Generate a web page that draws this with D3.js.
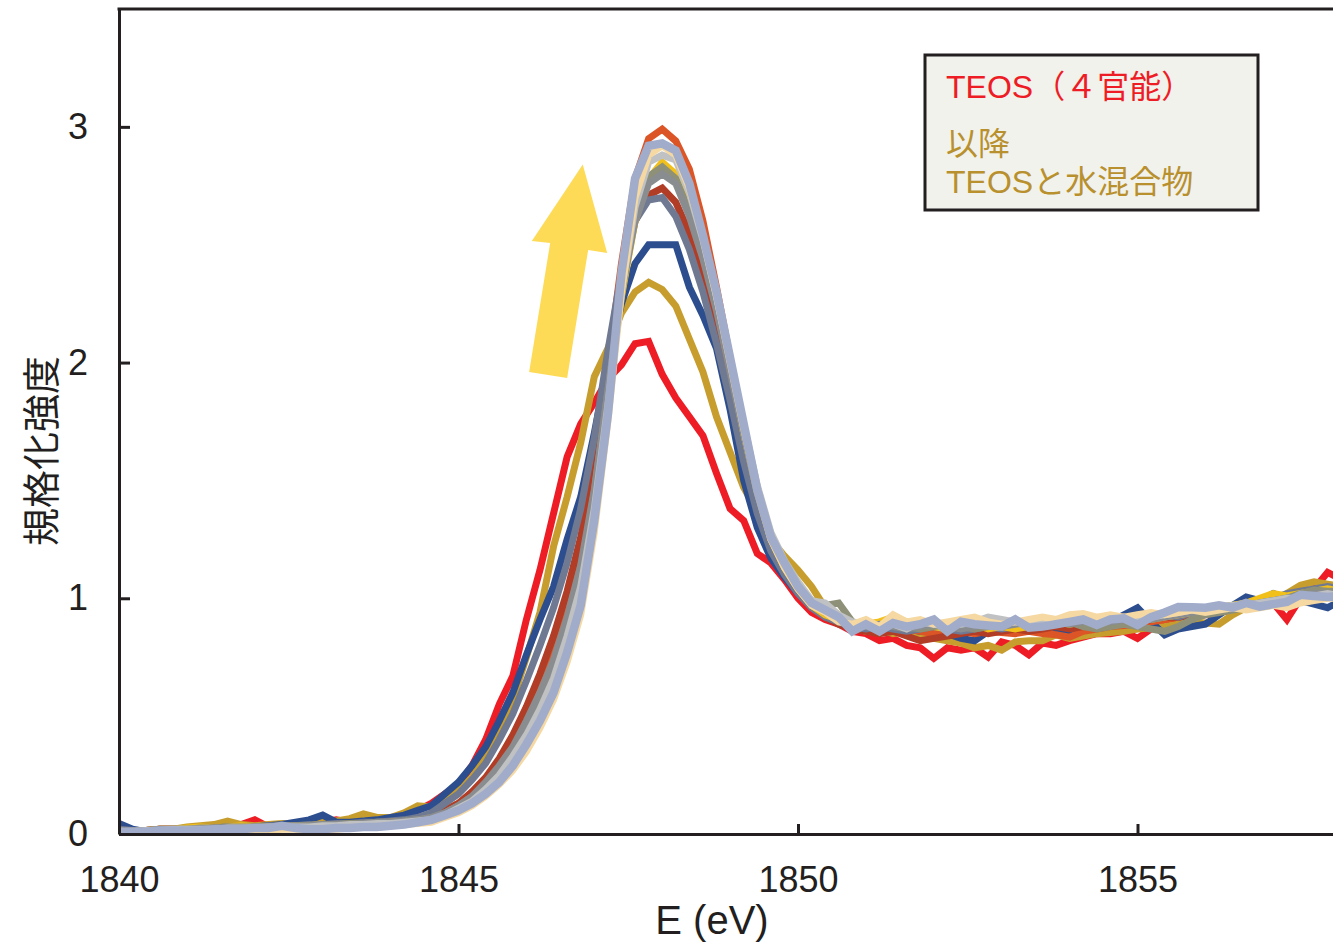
<!DOCTYPE html>
<html>
<head>
<meta charset="utf-8">
<script src="https://cdn.jsdelivr.net/npm/d3@7"></script>
<style>
    body { margin: 0; background: #fff; }
    svg { display: block; }
</style>
</head>
<body>
<svg id="chart" width="1333" height="942"></svg>
<script>
// energy grid, 0.2 eV steps from 1840 to 1858
var energy = d3.range(0, 91).map(function (i) { return +(1840 + i * 0.2).toFixed(1); });

// normalized intensity, one array per sample (pre-edge / edge / post-edge rows)
var sRed = [
    0.01,0.01,0.015,0.02,0.02,0.025,0.02,0.03,0.025,0.04,0.06,0.03,0.03,0.035,0.04,0.05,0.06,0.05,0.05,0.06,0.065,0.08,0.10,
    0.13,0.17,0.21,0.29,0.40,0.55,0.67,0.91,1.12,1.36,1.60,1.74,1.83,1.93,1.99,2.08,2.09,1.95,1.85,1.77,1.69,1.53,1.38,1.33,1.19,1.15,1.08,1.00,0.94,0.91,
    0.89,0.86,0.85,0.82,0.83,0.80,0.79,0.745,0.79,0.78,0.79,0.75,0.815,0.80,0.76,0.81,0.80,0.82,0.835,0.85,0.85,0.86,0.83,0.87,0.89,0.90,0.92,0.93,0.94,0.95,0.96,0.97,0.98,0.91,1.0,1.04,1.11,1.08
];
var sGold = [
    0.01,0.01,0.015,0.02,0.02,0.03,0.035,0.04,0.055,0.04,0.035,0.04,0.045,0.04,0.05,0.05,0.055,0.065,0.085,0.07,0.07,0.09,0.12,
    0.115,0.15,0.19,0.24,0.33,0.45,0.57,0.75,0.94,1.22,1.43,1.66,1.94,2.06,2.21,2.30,2.34,2.31,2.24,2.10,1.96,1.77,1.62,1.47,1.37,1.25,1.18,1.12,1.05,0.96,
    0.93,0.88,0.86,0.87,0.85,0.86,0.84,0.83,0.82,0.81,0.79,0.80,0.78,0.815,0.82,0.82,0.845,0.83,0.84,0.85,0.855,0.86,0.87,0.875,0.88,0.89,0.90,0.895,0.89,0.93,0.96,0.97,0.99,1.02,1.055,1.07,1.06,1.05
];
var sBlue = [
    0.045,0.02,0.01,0.01,0.015,0.02,0.02,0.025,0.03,0.03,0.03,0.035,0.04,0.05,0.06,0.08,0.05,0.05,0.055,0.06,0.07,0.08,0.10,
    0.12,0.17,0.22,0.29,0.37,0.48,0.60,0.76,0.91,1.05,1.25,1.43,1.70,2.00,2.25,2.42,2.50,2.50,2.50,2.32,2.20,2.06,1.80,1.50,1.30,1.17,1.09,1.02,0.97,0.93,
    0.91,0.89,0.87,0.88,0.865,0.87,0.86,0.87,0.85,0.83,0.82,0.86,0.87,0.86,0.88,0.91,0.87,0.86,0.88,0.89,0.90,0.93,0.96,0.90,0.845,0.87,0.88,0.89,0.93,0.97,1.005,0.99,1.02,1.0,0.99,0.975,0.96,0.99
];
var sOrange = [
    0.01,0.01,0.015,0.015,0.02,0.02,0.02,0.02,0.025,0.025,0.03,0.03,0.03,0.03,0.035,0.035,0.04,0.04,0.04,0.045,0.05,0.055,0.06,
    0.07,0.10,0.13,0.17,0.23,0.31,0.40,0.52,0.65,0.80,1.00,1.22,1.55,1.98,2.42,2.78,2.95,2.99,2.94,2.82,2.60,2.32,2.02,1.72,1.46,1.26,1.14,1.04,0.97,0.93,
    0.90,0.88,0.87,0.86,0.87,0.87,0.86,0.85,0.86,0.86,0.85,0.86,0.855,0.85,0.86,0.85,0.845,0.835,0.86,0.87,0.88,0.885,0.89,0.90,0.91,0.92,0.93,0.94,0.95,0.955,0.96,0.97,0.98,0.99,1.0,1.01,1.02,1.02
];
var sBrown = [
    0.01,0.015,0.015,0.02,0.02,0.02,0.025,0.025,0.025,0.03,0.03,0.03,0.035,0.03,0.035,0.04,0.04,0.04,0.045,0.045,0.05,0.055,0.06,
    0.07,0.10,0.13,0.18,0.24,0.32,0.42,0.54,0.68,0.84,1.03,1.26,1.58,1.98,2.35,2.60,2.71,2.74,2.68,2.55,2.38,2.17,1.92,1.66,1.42,1.24,1.13,1.04,0.97,0.92,
    0.89,0.87,0.86,0.85,0.86,0.84,0.82,0.83,0.84,0.85,0.86,0.85,0.86,0.87,0.86,0.87,0.88,0.87,0.88,0.89,0.89,0.90,0.90,0.91,0.92,0.92,0.93,0.94,0.95,0.96,0.97,0.98,0.99,1.0,1.01,1.02,1.03,1.02
];
var sSlate = [
    0.02,0.015,0.015,0.02,0.02,0.02,0.02,0.025,0.03,0.03,0.03,0.035,0.035,0.035,0.04,0.04,0.045,0.045,0.05,0.05,0.055,0.06,0.07,
    0.09,0.13,0.17,0.23,0.30,0.40,0.51,0.65,0.80,0.96,1.15,1.38,1.68,2.05,2.38,2.60,2.69,2.70,2.62,2.48,2.30,2.08,1.84,1.58,1.36,1.20,1.10,1.02,0.96,0.92,
    0.90,0.88,0.87,0.88,0.87,0.86,0.87,0.88,0.87,0.86,0.87,0.88,0.87,0.88,0.89,0.88,0.89,0.90,0.89,0.90,0.91,0.90,0.91,0.92,0.93,0.92,0.94,0.95,0.96,0.97,0.98,0.99,1.0,1.02,1.03,1.04,1.05,1.04
];
var sYellow = [
    0.01,0.01,0.015,0.02,0.02,0.025,0.03,0.025,0.03,0.035,0.03,0.03,0.03,0.035,0.035,0.04,0.04,0.04,0.045,0.045,0.05,0.05,0.055,
    0.06,0.08,0.11,0.15,0.20,0.27,0.35,0.45,0.57,0.71,0.89,1.10,1.42,1.85,2.28,2.60,2.78,2.85,2.80,2.66,2.47,2.24,1.98,1.70,1.45,1.25,1.13,1.04,0.97,0.93,
    0.91,0.90,0.89,0.90,0.92,0.90,0.89,0.88,0.87,0.88,0.89,0.87,0.88,0.87,0.88,0.89,0.90,0.89,0.90,0.91,0.90,0.91,0.92,0.91,0.92,0.93,0.94,0.95,0.96,0.97,0.98,1.0,1.02,1.01,1.02,1.03,1.04,1.03
];
var sOlive = [
    0.015,0.01,0.015,0.015,0.02,0.02,0.02,0.025,0.025,0.025,0.03,0.03,0.03,0.035,0.035,0.04,0.04,0.045,0.045,0.05,0.05,0.055,0.06,
    0.07,0.09,0.12,0.16,0.21,0.28,0.36,0.46,0.58,0.72,0.90,1.12,1.45,1.88,2.30,2.62,2.79,2.83,2.78,2.64,2.46,2.24,1.98,1.71,1.46,1.27,1.15,1.06,0.99,0.97,
    0.98,0.90,0.88,0.87,0.89,0.88,0.87,0.88,0.89,0.88,0.87,0.88,0.89,0.90,0.89,0.88,0.89,0.90,0.88,0.87,0.88,0.89,0.88,0.87,0.86,0.88,0.91,0.93,0.94,0.95,0.96,0.98,0.99,1.0,1.02,1.035,1.03,1.03
];
var sGray = [
    0.01,0.015,0.015,0.02,0.02,0.02,0.025,0.025,0.03,0.03,0.03,0.03,0.035,0.035,0.035,0.04,0.04,0.04,0.045,0.05,0.05,0.055,0.06,
    0.07,0.09,0.12,0.16,0.22,0.29,0.37,0.48,0.60,0.74,0.92,1.14,1.46,1.88,2.30,2.60,2.76,2.80,2.76,2.62,2.44,2.22,1.96,1.70,1.45,1.26,1.14,1.05,0.98,0.94,
    0.91,0.89,0.88,0.89,0.88,0.87,0.88,0.89,0.88,0.87,0.88,0.89,0.88,0.89,0.90,0.89,0.90,0.89,0.90,0.91,0.90,0.91,0.92,0.91,0.92,0.93,0.94,0.95,0.95,0.96,0.97,0.98,0.99,1.0,1.01,1.02,1.02,1.02
];
var sLightGray = [
    0.01,0.01,0.015,0.015,0.02,0.02,0.02,0.02,0.025,0.025,0.025,0.03,0.03,0.03,0.03,0.035,0.035,0.04,0.04,0.045,0.045,0.05,0.055,
    0.06,0.08,0.11,0.14,0.19,0.25,0.33,0.42,0.53,0.66,0.84,1.05,1.38,1.82,2.30,2.66,2.85,2.88,2.86,2.72,2.52,2.28,2.02,1.74,1.48,1.28,1.16,1.07,0.99,0.98,
    0.93,0.90,0.89,0.88,0.89,0.87,0.90,0.89,0.88,0.89,0.90,0.92,0.91,0.90,0.89,0.90,0.91,0.915,0.91,0.90,0.91,0.92,0.91,0.92,0.93,0.94,0.95,0.95,0.96,0.97,0.97,0.98,0.99,1.0,1.0,1.01,1.02,1.01
];
var sTan = [
    0.005,0.01,0.01,0.01,0.01,0.015,0.015,0.015,0.02,0.015,0.01,0.015,0.02,0.02,0.015,0.02,0.02,0.025,0.03,0.03,0.035,0.04,0.045,
    0.05,0.07,0.09,0.12,0.16,0.21,0.27,0.35,0.45,0.57,0.73,0.93,1.28,1.75,2.30,2.70,2.88,2.92,2.88,2.74,2.53,2.28,2.00,1.72,1.46,1.25,1.13,1.04,0.97,0.94,
    0.90,0.89,0.91,0.88,0.93,0.90,0.91,0.89,0.90,0.91,0.92,0.90,0.89,0.90,0.91,0.92,0.91,0.93,0.935,0.92,0.93,0.92,0.93,0.94,0.93,0.94,0.95,0.94,0.95,0.96,0.95,0.96,0.97,0.96,0.98,0.99,1.0,1.0
];
var sPeri = [
    0.01,0.01,0.01,0.015,0.015,0.015,0.015,0.02,0.02,0.02,0.025,0.025,0.035,0.025,0.02,0.02,0.025,0.025,0.03,0.03,0.035,0.04,0.05,
    0.06,0.08,0.10,0.13,0.17,0.22,0.29,0.38,0.48,0.60,0.77,0.97,1.33,1.78,2.38,2.78,2.92,2.93,2.90,2.76,2.54,2.30,2.02,1.74,1.46,1.26,1.15,1.05,0.98,0.95,
    0.92,0.86,0.89,0.86,0.895,0.88,0.89,0.91,0.86,0.90,0.89,0.885,0.88,0.91,0.875,0.88,0.89,0.90,0.91,0.887,0.91,0.915,0.887,0.92,0.94,0.963,0.962,0.96,0.97,0.96,0.98,0.965,0.975,0.985,1.015,1.01,1.005,1.01
];

// drawing order, bottom first
var seriesList = [sRed, sGold, sBlue, sOrange, sBrown, sSlate, sYellow, sOlive, sGray, sLightGray, sTan, sPeri];
var seriesColors = ['#ee1c25', '#c79d2d', '#2d4e8e', '#dc5526', '#b13d26', '#6f7992', '#f2c01b',
    '#8e9177', '#8a8d8f', '#bfc1c2', '#f5d8a2', '#a1abca'];

var xTicks = [1840, 1845, 1850, 1855];
var yTicks = [0, 1, 2, 3];

// big "increase" arrow, in data units (E, intensity)
var arrowPts = [[1846.83, 2.84], [1847.19, 2.465], [1846.91, 2.478], [1846.60, 1.935],
    [1846.04, 1.96], [1846.35, 2.507], [1846.08, 2.516]];

var legendLines = [
    {text: 'TEOS（４官能）', color: '#ee1c25'},
    {text: '以降', color: '#b8902e'},
    {text: 'TEOSと水混合物', color: '#b8902e'}
];

var cfg = {
    w: 1333,
    h: 942,
    axisColor: '#231f20',
    numFont: '"Liberation Sans", Arial, sans-serif',
    jpFont: '"Liberation Sans", "Noto Sans CJK JP", sans-serif'
};

var svg = d3.select('#chart'),
    margin = {top: 9, left: 119};

var x = d3.scaleLinear()
    .domain([1840, 1858])
    .range([margin.left, margin.left + 18 * 67.9]);

var y = d3.scaleLinear()
    .domain([0, 3.5])
    .range([834, margin.top]);

svg.append('defs').append('clipPath')
    .attr('id', 'plot-clip')
    .append('rect')
    .attr('x', margin.left)
    .attr('y', margin.top)
    .attr('width', cfg.w - margin.left)
    .attr('height', 834 - margin.top);

// arrow
svg.append('path')
    .attr('d', d3.line()
        .x(function (d) { return x(d[0]); })
        .y(function (d) { return y(d[1]); })
        .curve(d3.curveLinearClosed)(arrowPts))
    .attr('fill', '#fddb57');

// spectra
var line = d3.line()
    .x(function (d, i) { return x(energy[i]); })
    .y(function (d) { return y(d); });

svg.append('g')
    .attr('clip-path', 'url(#plot-clip)')
    .selectAll('path')
    .data(seriesList)
    .enter()
    .append('path')
    .attr('d', line)
    .attr('fill', 'none')
    .attr('stroke', function (d, i) { return seriesColors[i]; })
    .attr('stroke-width', function (d, i) { return i === seriesList.length - 1 ? 8.5 : 7; });

// axes (ticks point inward)
var yAxis = svg.append('g')
    .attr('transform', 'translate(' + margin.left + ',0)')
    .call(d3.axisLeft(y).tickValues(yTicks).tickFormat(d3.format('d'))
        .tickSize(-11).tickSizeOuter(0).tickPadding(31));

var xAxis = svg.append('g')
    .attr('transform', 'translate(0,834)')
    .call(d3.axisBottom(x).tickValues(xTicks).tickFormat(d3.format('d'))
        .tickSize(-10).tickSizeOuter(0).tickPadding(32));

[yAxis, xAxis].forEach(function (ax) {
    ax.selectAll('path, line')
        .attr('stroke', cfg.axisColor)
        .attr('stroke-width', 3);
    ax.selectAll('text')
        .attr('fill', cfg.axisColor)
        .style('font-family', cfg.numFont)
        .style('font-size', '36px');
});

// top border
svg.append('line')
    .attr('x1', margin.left - 1.5)
    .attr('x2', cfg.w)
    .attr('y1', y(3.5))
    .attr('y2', y(3.5))
    .attr('stroke', cfg.axisColor)
    .attr('stroke-width', 3);

// axis titles
svg.append('text')
    .attr('x', 712)
    .attr('y', 934)
    .attr('text-anchor', 'middle')
    .attr('fill', cfg.axisColor)
    .style('font-family', cfg.numFont)
    .style('font-size', '40px')
    .text('E (eV)');

svg.append('text')
    .attr('transform', 'translate(38,451) rotate(-90)')
    .attr('text-anchor', 'middle')
    .attr('dominant-baseline', 'central')
    .attr('fill', cfg.axisColor)
    .style('font-family', '"Noto Sans CJK JP", sans-serif')
    .style('font-size', '38px')
    .text('規格化強度');

// legend box
var legend = svg.append('g');
legend.append('rect')
    .attr('x', 925)
    .attr('y', 55)
    .attr('width', 333)
    .attr('height', 155)
    .attr('fill', '#f2f2ec')
    .attr('stroke', cfg.axisColor)
    .attr('stroke-width', 3);

legend.selectAll('text')
    .data(legendLines)
    .enter()
    .append('text')
    .attr('x', 946)
    .attr('y', function (d, i) { return [98, 155, 193][i]; })
    .attr('fill', function (d) { return d.color; })
    .style('font-family', cfg.jpFont)
    .style('font-size', '32px')
    .text(function (d) { return d.text; });
</script>
</body>
</html>
